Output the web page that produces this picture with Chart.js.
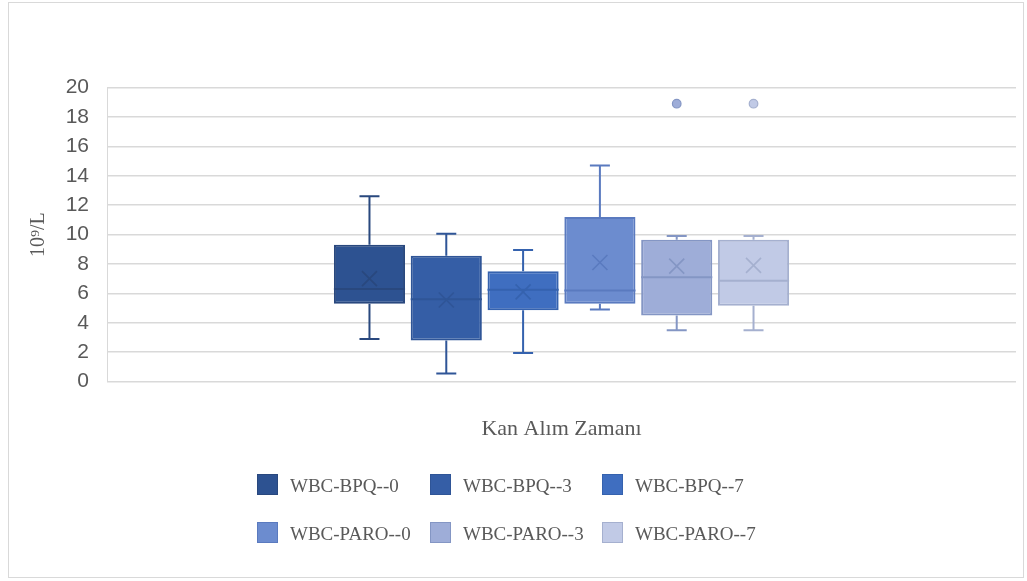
<!DOCTYPE html>
<html>
<head>
<meta charset="utf-8">
<script src="https://cdn.jsdelivr.net/npm/chart.js@4.4.1/dist/chart.umd.min.js"></script>
<style>
    body { margin: 0; background: #fff; }
    #wrap { position: relative; width: 1027px; height: 581px; }
    #frame {
        position: absolute; left: 8px; top: 2px; width: 1016px; height: 576px;
        border: 1px solid #d9d9d9; box-sizing: border-box; pointer-events: none;
    }
    #chart { position: absolute; left: 0; top: 0; }
    .lg {
        position: absolute; height: 21px; line-height: 21px; white-space: nowrap;
        font-family: "Liberation Serif", "Times New Roman", serif; font-size: 19px; color: #595959;
    }
    .lg i {
        position: absolute; left: 0; top: 0; width: 21px; height: 21px; box-sizing: border-box;
        border: 1.5px solid;
    }
    .lg span { position: absolute; left: 33px; top: 1px; }
</style>
</head>
<body>
<div id="wrap">
    <canvas id="chart" width="1027" height="581"></canvas>
    <div id="frame"></div>
    <div id="legend"></div>
</div>
<script>
const series = ['WBC-BPQ--0', 'WBC-BPQ--3', 'WBC-BPQ--7', 'WBC-PARO--0', 'WBC-PARO--3', 'WBC-PARO--7'];
const whiskerLow = [2.9, 0.55, 1.95, 4.9, 3.5, 3.5];
const q1 = [5.3, 2.8, 4.85, 5.3, 4.5, 5.15];
const median = [6.3, 5.6, 6.25, 6.2, 7.1, 6.85];
const q3 = [9.3, 8.55, 7.5, 11.2, 9.65, 9.65];
const whiskerHigh = [12.6, 10.05, 8.95, 14.7, 9.9, 9.9];
const mean = [7.0, 5.55, 6.1, 8.1, 7.85, 7.9];
const outliers = [[], [], [], [], [18.9], [18.9]];

const fills = ['#2d5291', '#355ea6', '#3f6ec0', '#6c8ccf', '#9eadd8', '#c1cae6'];
const lines = ['#29487e', '#2f5597', '#3562ae', '#5a7abf', '#8496c4', '#a5b0cf'];

// whiskers, medians, means and outliers on top of the floating bars
const boxExtras = {
    id: 'boxExtras',
    afterDatasetsDraw(chart) {
        const ctx = chart.ctx;
        const y = chart.scales.y;
        chart.data.datasets.forEach((ds, i) => {
            const bar = chart.getDatasetMeta(i).data[0];
            const x = bar.x, half = bar.width / 2;
            ctx.save();
            ctx.strokeStyle = lines[i];
            ctx.lineWidth = 2;
            ctx.beginPath();
            // upper whisker
            ctx.moveTo(x, y.getPixelForValue(q3[i]));
            ctx.lineTo(x, y.getPixelForValue(whiskerHigh[i]));
            ctx.moveTo(x - 10, y.getPixelForValue(whiskerHigh[i]));
            ctx.lineTo(x + 10, y.getPixelForValue(whiskerHigh[i]));
            // lower whisker
            ctx.moveTo(x, y.getPixelForValue(q1[i]));
            ctx.lineTo(x, y.getPixelForValue(whiskerLow[i]));
            ctx.moveTo(x - 10, y.getPixelForValue(whiskerLow[i]));
            ctx.lineTo(x + 10, y.getPixelForValue(whiskerLow[i]));
            // median
            ctx.moveTo(x - half, y.getPixelForValue(median[i]));
            ctx.lineTo(x + half, y.getPixelForValue(median[i]));
            ctx.stroke();
            // mean cross
            const my = y.getPixelForValue(mean[i]);
            ctx.lineWidth = 1.6;
            ctx.beginPath();
            ctx.moveTo(x - 7.5, my - 7.5);
            ctx.lineTo(x + 7.5, my + 7.5);
            ctx.moveTo(x + 7.5, my - 7.5);
            ctx.lineTo(x - 7.5, my + 7.5);
            ctx.stroke();
            // outliers
            outliers[i].forEach(v => {
                ctx.beginPath();
                ctx.arc(x, y.getPixelForValue(v), 4.3, 0, Math.PI * 2);
                ctx.fillStyle = fills[i];
                ctx.fill();
                ctx.lineWidth = 1.2;
                ctx.stroke();
            });
            ctx.restore();
        });
    }
};

new Chart(document.getElementById('chart'), {
    type: 'bar',
    data: {
        labels: [''],
        datasets: series.map((name, i) => ({
            label: name,
            data: [[q1[i], q3[i]]],
            backgroundColor: fills[i],
            borderColor: lines[i],
            borderWidth: 2,
            borderSkipped: false,
            categoryPercentage: 0.507,
            barPercentage: 0.926
        }))
    },
    options: {
        responsive: false,
        animation: false,
        events: [],
        layout: { padding: { left: 21, top: 87.5, right: 11, bottom: 139 } },
        plugins: { legend: { display: false }, tooltip: { enabled: false } },
        scales: {
            x: {
                grid: { display: false, drawTicks: false },
                border: { display: false },
                ticks: { display: false },
                title: {
                    display: true,
                    text: 'Kan Alım Zamanı',
                    color: '#595959',
                    font: { family: 'Liberation Serif', size: 22 },
                    padding: { top: 34, bottom: 0 }
                }
            },
            y: {
                min: 0,
                max: 20,
                ticks: {
                    stepSize: 2,
                    padding: 18,
                    color: '#595959',
                    font: { family: 'Liberation Sans', size: 21 }
                },
                grid: { color: '#d9d9d9', lineWidth: 1.5, drawTicks: false },
                border: { display: true, color: '#d9d9d9', width: 1 },
                title: {
                    display: true,
                    text: '10⁹/L',
                    color: '#595959',
                    font: { family: 'Liberation Serif', size: 20 },
                    padding: { top: 6, bottom: 4 }
                },
                afterFit(axis) { axis.width = 86; }
            }
        }
    },
    plugins: [boxExtras]
});

// legend in three columns, as in the reference
const legend = document.getElementById('legend');
const colX = [257, 430, 602];
const rowY = [474, 521.5];
series.forEach((name, i) => {
    const item = document.createElement('div');
    item.className = 'lg';
    item.style.left = colX[i % 3] + 'px';
    item.style.top = rowY[Math.floor(i / 3)] + 'px';
    item.innerHTML = '<i style="background:' + fills[i] + ';border-color:' + lines[i] + '"></i><span>' + name + '</span>';
    legend.appendChild(item);
});
</script>
</body>
</html>
